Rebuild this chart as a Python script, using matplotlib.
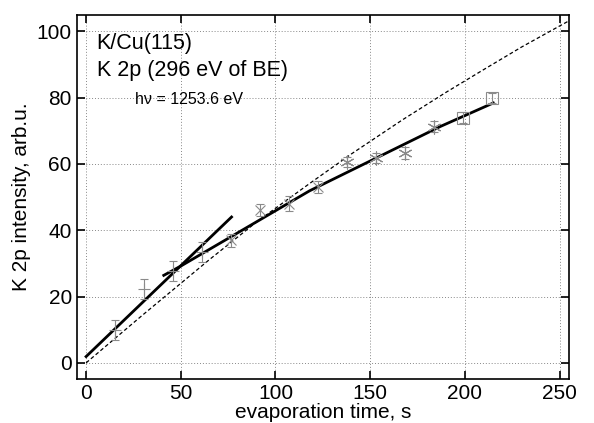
import numpy as np
import matplotlib
matplotlib.use("Agg")
import matplotlib.pyplot as plt

plt.rcParams['font.family'] = ['Liberation Sans', 'DejaVu Sans']

# measured points: evaporation time (s), K 2p intensity, error
t_plus = [15.3, 30.6, 45.9, 61.2]
i_plus = [10.0, 22.3, 27.6, 33.4]
e_plus = [3.0, 3.0, 3.0, 3.0]

t_cross = [76.5, 91.8, 107.1, 122.4]
i_cross = [37.0, 46.0, 48.0, 53.1]
e_cross = [2.0, 1.8, 2.2, 1.8]

t_star = [137.7, 153.0, 168.3, 183.6]
i_star = [60.7, 61.7, 63.2, 71.3]
e_star = [1.5, 1.5, 1.8, 1.6]

t_sq = [198.9, 214.2]
i_sq = [74.0, 79.9]
e_sq = [1.6, 1.4]

# fitted lines
fit1_t = [0, 76.8]
fit1_i = [1.9, 44.0]
fit2_t = [41, 50, 118, 187, 215]
fit2_i = [26.4, 29.2, 51.9, 71.3, 78.4]
dash_t = [0, 30, 65, 90, 118, 140, 167, 190, 210, 230, 255]
dash_i = [0, 14.5, 31.1, 42.5, 54.1, 63.0, 73.3, 81.6, 88.5, 95.3, 103.2]

fig = plt.figure(figsize=(5.94, 4.23), dpi=100)
ax = fig.add_axes([0.129, 0.103, 0.829, 0.862])

ax.plot(dash_t, dash_i, color='black', lw=0.9, ls=(0, (3, 2)))
ax.plot(fit1_t, fit1_i, color='black', lw=2)
ax.plot(fit2_t, fit2_i, color='black', lw=2)

gray = '#8a8a8a'
for t, i, e, m, ms in [(t_plus, i_plus, e_plus, '+', 8),
                       (t_cross, i_cross, e_cross, 'x', 7),
                       (t_star, i_star, e_star, (6, 2, 0), 10),
                       (t_sq, i_sq, e_sq, 's', 8)]:
    ax.errorbar(t, i, yerr=e, fmt='none', ecolor=gray, elinewidth=0.8,
                capsize=3, capthick=0.8)
    if m == 's':
        ax.plot(t, i, ls='none', marker=m, ms=ms, mfc='none', mec=gray, mew=0.8)
    else:
        ax.plot(t, i, ls='none', marker=m, ms=ms, color=gray, mew=0.8)

ax.set_xlim(-5, 255)
ax.set_ylim(-5, 105)
ax.set_xticks([0, 50, 100, 150, 200, 250])
ax.set_yticks([0, 20, 40, 60, 80, 100])
ax.grid(True, ls=(0, (1, 2)), color='#888888', lw=0.7)
ax.tick_params(direction='in', top=True, right=True, length=6, width=1.2,
               labelsize=15)
for s in ax.spines.values():
    s.set_linewidth(1.2)

ax.set_xlabel('evaporation time, s', fontsize=15, labelpad=0)
ax.set_ylabel('K 2p intensity, arb.u.', fontsize=15, labelpad=4)

ax.text(5.5, 96.2, 'K/Cu(115)', fontsize=15.5, va='center')
ax.text(5.5, 88.2, 'K 2p (296 eV of BE)', fontsize=15.5, va='center')
ax.text(26, 79.5, 'h\u03bd = 1253.6 eV', fontsize=11.5, va='center')

fig.savefig('out.png', dpi=100)
